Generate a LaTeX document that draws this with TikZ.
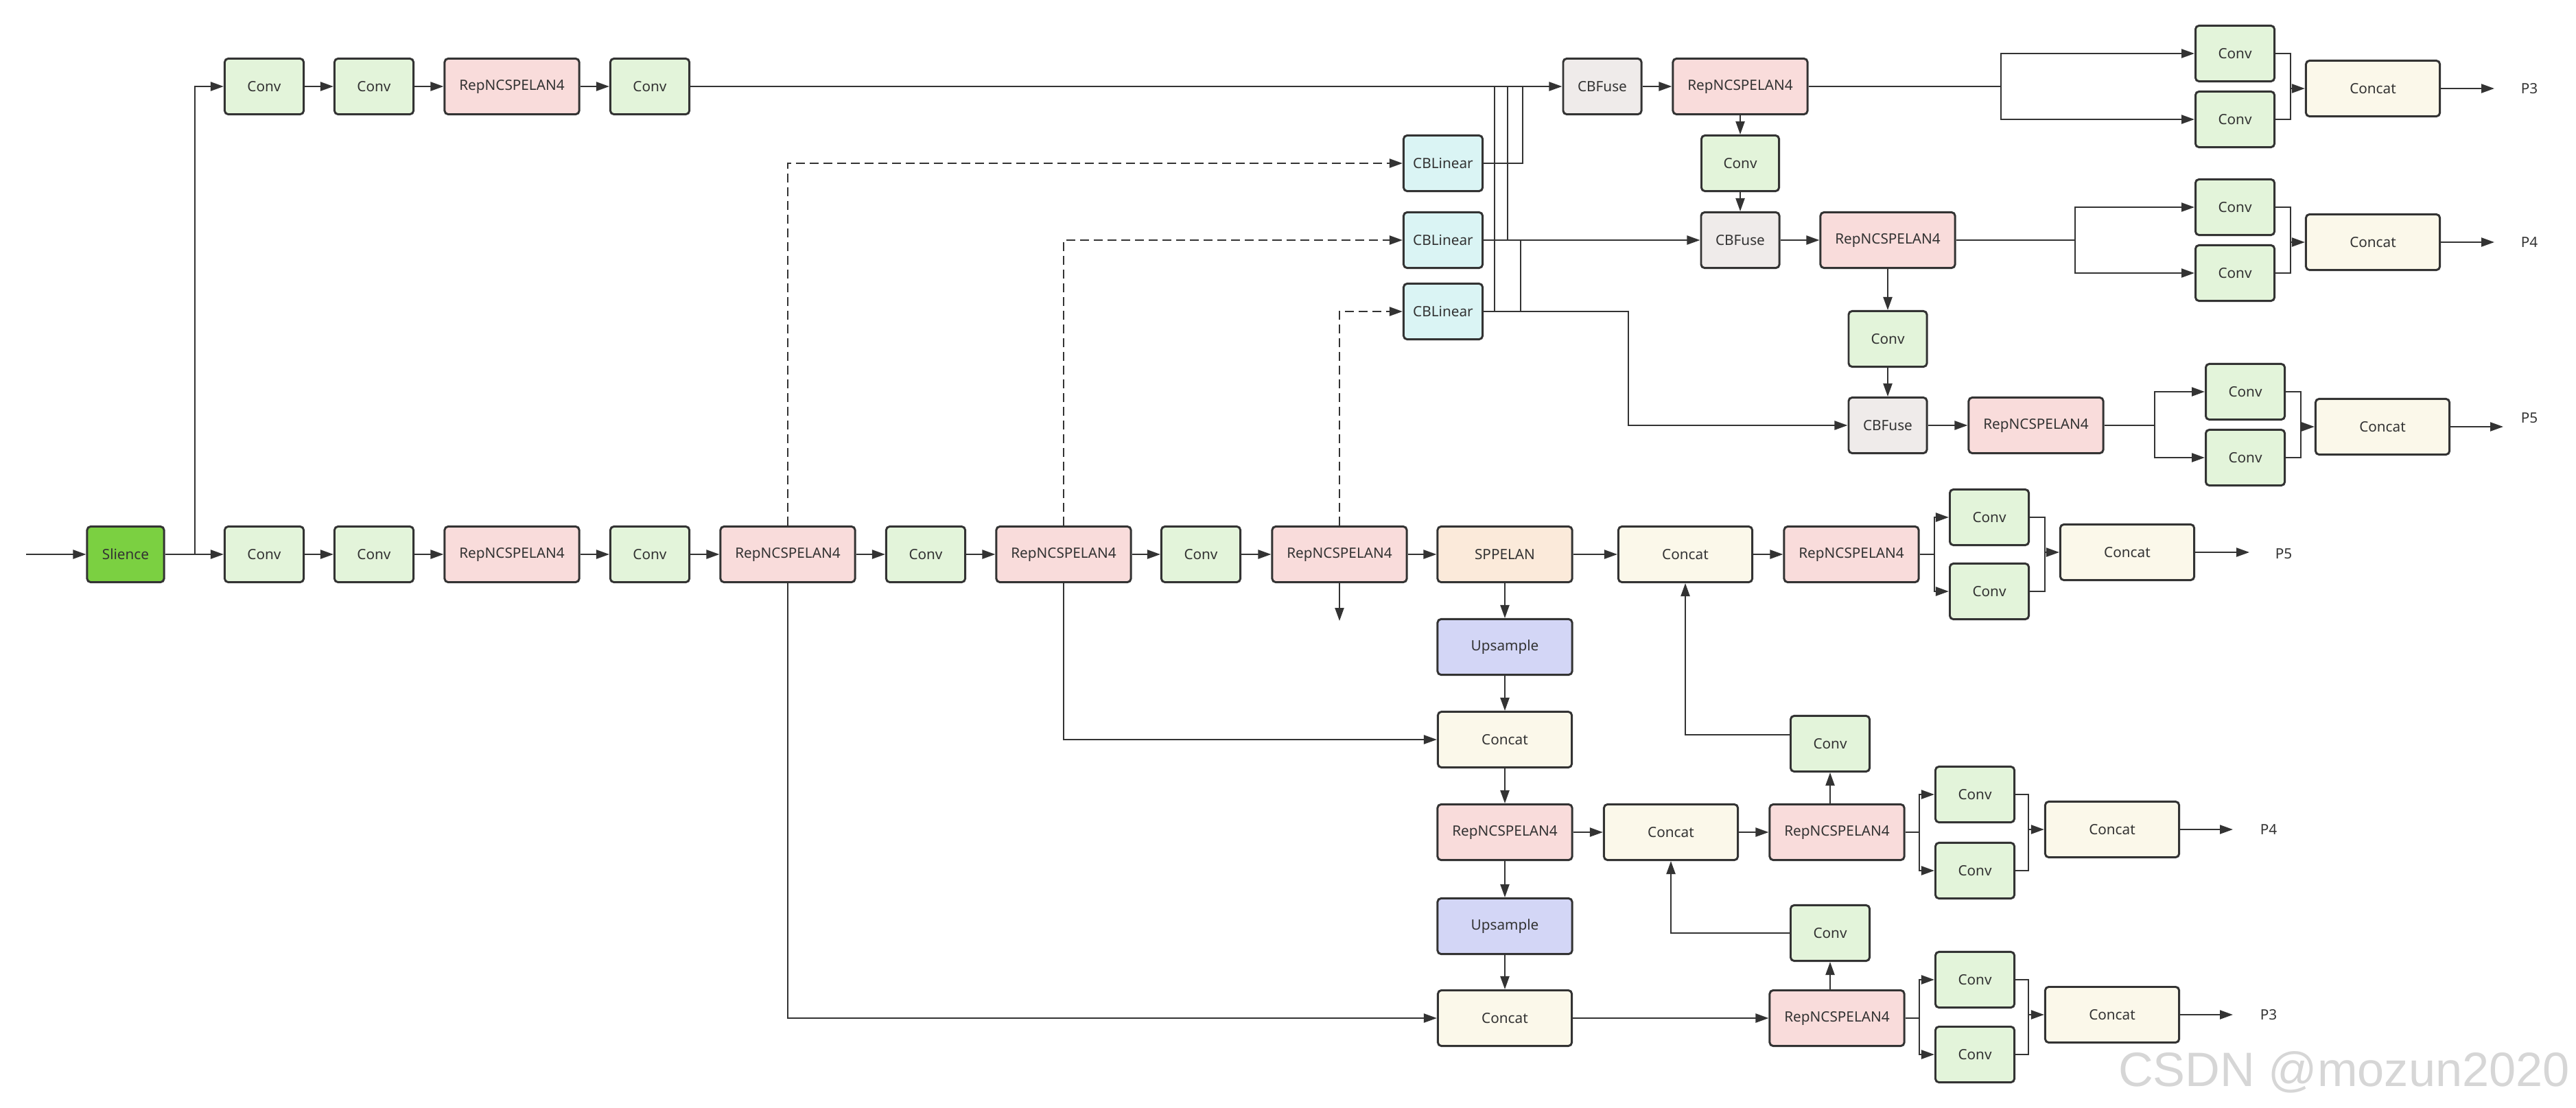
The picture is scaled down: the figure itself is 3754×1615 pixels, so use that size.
\documentclass[tikz,border=0pt]{standalone}
\usepackage{fontspec}
\usetikzlibrary{arrows.meta}
\newfontfamily\lblfont{Noto Sans}
\newfontfamily\wmfont{Liberation Sans}
\definecolor{bd}{HTML}{333333}
\definecolor{tx}{HTML}{333333}
\definecolor{convc}{HTML}{E3F4DA}
\definecolor{repc}{HTML}{F9DCDB}
\definecolor{slc}{HTML}{7BD041}
\definecolor{linc}{HTML}{DAF4F4}
\definecolor{fusec}{HTML}{EFEBEA}
\definecolor{sppc}{HTML}{FBEADA}
\definecolor{upc}{HTML}{D3D6F6}
\definecolor{catc}{HTML}{FBF8EA}
\definecolor{wmc}{HTML}{D6D6D6}
\tikzset{
  box/.style={draw=bd, line width=0.85pt, rounded corners=0.05cm, minimum height=0.81cm,
    inner sep=0pt, text=tx, font=\lblfont\fontsize{5.9}{7}\selectfont},
  convbox/.style={box, fill=convc, minimum width=1.15cm},
  repbox/.style={box, fill=repc, minimum width=1.96cm},
  catbox/.style={box, fill=catc, minimum width=1.95cm},
  slcbox/.style={box, fill=slc, minimum width=1.12cm},
  linbox/.style={box, fill=linc, minimum width=1.15cm},
  fusebox/.style={box, fill=fusec, minimum width=1.14cm},
  sppbox/.style={box, fill=sppc, minimum width=1.96cm},
  upbox/.style={box, fill=upc, minimum width=1.96cm},
  lab/.style={inner sep=0pt, text=tx, font=\lblfont\fontsize{5.9}{7}\selectfont},
  ln/.style={draw=bd, line width=0.65pt},
  arr/.style={ln, -{Triangle[length=0.19cm,width=0.13cm]}},
  darr/.style={arr, dash pattern=on 0.13cm off 0.07cm},
}
\begin{document}
\begin{tikzpicture}[x=0.01cm,y=-0.01cm]
\useasboundingbox (0,0) rectangle (3754,1615);
% ---------------- main row ----------------
\node[slcbox] (sl) at (183,808) {Slience};
\node[convbox] (b1) at (385,808) {Conv};
\node[convbox] (b2) at (545,808) {Conv};
\node[repbox] (b3) at (746,808) {RepNCSPELAN4};
\node[convbox] (b4) at (947,808) {Conv};
\node[repbox] (b5) at (1148,808) {RepNCSPELAN4};
\node[convbox] (b6) at (1349,808) {Conv};
\node[repbox] (b7) at (1550,808) {RepNCSPELAN4};
\node[convbox] (b8) at (1750,808) {Conv};
\node[repbox] (b9) at (1952,808) {RepNCSPELAN4};
\node[sppbox] (spp) at (2193,808) {SPPELAN};
\node[catbox] (n1) at (2456,808) {Concat};
\node[repbox] (n2) at (2698,808) {RepNCSPELAN4};
\node[convbox] (n3) at (2899,754) {Conv};
\node[convbox] (n4) at (2899,862) {Conv};
\node[catbox] (n5) at (3100,805) {Concat};
\node[lab] (p5b) at (3328,807) {P5};
% ---------------- top row ----------------
\node[convbox] (t1) at (385,126) {Conv};
\node[convbox] (t2) at (545,126) {Conv};
\node[repbox] (t3) at (746,126) {RepNCSPELAN4};
\node[convbox] (t4) at (947,126) {Conv};
\node[fusebox] (f1) at (2335,126) {CBFuse};
\node[repbox] (a1) at (2536,126) {RepNCSPELAN4};
\node[convbox, minimum width=1.13cm] (a1c) at (2536,238) {Conv};
\node[fusebox] (f2) at (2536,350) {CBFuse};
\node[repbox] (a2) at (2751,350) {RepNCSPELAN4};
\node[convbox, minimum width=1.14cm] (a2c) at (2751,494) {Conv};
\node[fusebox] (f3) at (2751,620) {CBFuse};
\node[repbox] (a3) at (2967,620) {RepNCSPELAN4};
\node[linbox] (l1) at (2103,238) {CBLinear};
\node[linbox] (l2) at (2103,350) {CBLinear};
\node[linbox] (l3) at (2103,454) {CBLinear};
% heads top
\node[convbox] (h1a) at (3257,78) {Conv};
\node[convbox] (h1b) at (3257,174) {Conv};
\node[catbox] (h1c) at (3458,129) {Concat};
\node[lab] (p3t) at (3686,129) {P3};
\node[convbox] (h2a) at (3257,302) {Conv};
\node[convbox] (h2b) at (3257,398) {Conv};
\node[catbox] (h2c) at (3458,353) {Concat};
\node[lab] (p4t) at (3686,353) {P4};
\node[convbox] (h3a) at (3272,571) {Conv};
\node[convbox] (h3b) at (3272,667) {Conv};
\node[catbox] (h3c) at (3472,622) {Concat};
\node[lab] (p5t) at (3686,609) {P5};
% ---------------- lower part ----------------
\node[upbox] (u1) at (2193,943) {Upsample};
\node[catbox] (m1) at (2193,1078) {Concat};
\node[repbox] (m2) at (2193,1213) {RepNCSPELAN4};
\node[upbox] (u2) at (2193,1350) {Upsample};
\node[catbox] (m3) at (2193,1484) {Concat};
\node[catbox] (m4) at (2435,1213) {Concat};
\node[repbox] (m5) at (2677,1213) {RepNCSPELAN4};
\node[convbox] (m6) at (2667,1084) {Conv};
\node[convbox] (m7) at (2667,1360) {Conv};
\node[repbox] (m8) at (2677,1484) {RepNCSPELAN4};
\node[convbox] (g4a) at (2878,1158) {Conv};
\node[convbox] (g4b) at (2878,1269) {Conv};
\node[catbox] (g4c) at (3078,1209) {Concat};
\node[lab] (p4b) at (3306,1209) {P4};
\node[convbox] (g3a) at (2878,1428) {Conv};
\node[convbox] (g3b) at (2878,1537) {Conv};
\node[catbox] (g3c) at (3078,1479) {Concat};
\node[lab] (p3b) at (3306,1479) {P3};
% watermark
\node[inner sep=0pt, text=wmc, font=\wmfont\fontsize{20}{22}\selectfont] (wm) at (3416,1563) {CSDN @mozun2020};
% ---------------- coordinates ----------------
\coordinate (in) at (38,808);
\coordinate (br0) at (284,808);
\coordinate (b9d) at (1952,905);
\coordinate (brn) at (2819,808);
\coordinate (jn) at (2980,805);
\coordinate (e5b) at (3278,805);
\coordinate (k1) at (2219,126);
\coordinate (k2) at (2197,126);
\coordinate (k3) at (2178,126);
\coordinate (k4) at (2216,350);
\coordinate (k5) at (2373,454);
\coordinate (hb1) at (2916,126);
\coordinate (hj1) at (3338,129);
\coordinate (e3t) at (3635,129);
\coordinate (hb2) at (3024,350);
\coordinate (hj2) at (3338,353);
\coordinate (e4t) at (3635,353);
\coordinate (hb3) at (3140,620);
\coordinate (hj3) at (3353,622);
\coordinate (e5t) at (3648,622);
\coordinate (gb4) at (2797,1213);
\coordinate (gj4) at (2956,1209);
\coordinate (e4b) at (3254,1209);
\coordinate (gb3) at (2797,1484);
\coordinate (gj3) at (2956,1479);
\coordinate (e3b) at (3254,1479);
% ---------------- connectors: main row ----------------
\draw[arr] (in) -- (sl.west);
\draw[arr] (sl.east) -- (b1.west);
\draw[arr] (br0) |- (t1.west);
\draw[arr] (b1.east) -- (b2.west);
\draw[arr] (b2.east) -- (b3.west);
\draw[arr] (b3.east) -- (b4.west);
\draw[arr] (b4.east) -- (b5.west);
\draw[arr] (b5.east) -- (b6.west);
\draw[arr] (b6.east) -- (b7.west);
\draw[arr] (b7.east) -- (b8.west);
\draw[arr] (b8.east) -- (b9.west);
\draw[arr] (b9.east) -- (spp.west);
\draw[arr] (spp.east) -- (n1.west);
\draw[arr] (n1.east) -- (n2.west);
\draw[ln] (n2.east) -- (brn);
\draw[arr] (brn) |- (n3.west);
\draw[arr] (brn) |- (n4.west);
\draw[ln] (n3.east) -| (jn);
\draw[ln] (n4.east) -| (jn);
\draw[arr] (jn) -- (n5.west);
\draw[arr] (n5.east) -- (e5b);
\draw[arr] (b9.south) -- (b9d);
% top row
\draw[arr] (t1.east) -- (t2.west);
\draw[arr] (t2.east) -- (t3.west);
\draw[arr] (t3.east) -- (t4.west);
\draw[arr] (t4.east) -- (f1.west);
% dashed to CBLinear
\draw[darr] (b5.north) |- (l1.west);
\draw[darr] (b7.north) |- (l2.west);
\draw[darr] (b9.north) |- (l3.west);
% CBLinear outputs
\draw[ln] (l1.east) -| (k1);
\draw[ln] (l2.east) -| (k2);
\draw[ln] (l3.east) -| (k3);
\draw[arr] (l2.east) -- (f2.west);
\draw[ln] (l3.east) -| (k4);
\draw[arr] (l3.east) -- (k5) |- (f3.west);
% aux chain
\draw[arr] (f1.east) -- (a1.west);
\draw[arr] (a1.south) -- (a1c.north);
\draw[arr] (a1c.south) -- (f2.north);
\draw[arr] (f2.east) -- (a2.west);
\draw[arr] (a2.south) -- (a2c.north);
\draw[arr] (a2c.south) -- (f3.north);
\draw[arr] (f3.east) -- (a3.west);
% heads top
\draw[ln] (a1.east) -- (hb1);
\draw[arr] (hb1) |- (h1a.west);
\draw[arr] (hb1) |- (h1b.west);
\draw[ln] (h1a.east) -| (hj1);
\draw[ln] (h1b.east) -| (hj1);
\draw[arr] (hj1) -- (h1c.west);
\draw[arr] (h1c.east) -- (e3t);
\draw[ln] (a2.east) -- (hb2);
\draw[arr] (hb2) |- (h2a.west);
\draw[arr] (hb2) |- (h2b.west);
\draw[ln] (h2a.east) -| (hj2);
\draw[ln] (h2b.east) -| (hj2);
\draw[arr] (hj2) -- (h2c.west);
\draw[arr] (h2c.east) -- (e4t);
\draw[ln] (a3.east) -- (hb3);
\draw[arr] (hb3) |- (h3a.west);
\draw[arr] (hb3) |- (h3b.west);
\draw[ln] (h3a.east) -| (hj3);
\draw[ln] (h3b.east) -| (hj3);
\draw[arr] (hj3) -- (h3c.west);
\draw[arr] (h3c.east) -- (e5t);
% lower part
\draw[arr] (spp.south) -- (u1.north);
\draw[arr] (u1.south) -- (m1.north);
\draw[arr] (m1.south) -- (m2.north);
\draw[arr] (m2.south) -- (u2.north);
\draw[arr] (u2.south) -- (m3.north);
\draw[arr] (b7.south) |- (m1.west);
\draw[arr] (b5.south) |- (m3.west);
\draw[arr] (m2.east) -- (m4.west);
\draw[arr] (m4.east) -- (m5.west);
\draw[arr] (m5.north -| m6.south) -- (m6.south);
\draw[arr] ([yshift=0.13cm]m6.west) -| (n1.south);
\draw[arr] (m3.east) -- (m8.west);
\draw[arr] (m8.north -| m7.south) -- (m7.south);
\draw[arr] (m7.west) -| (m4.south);
% mid heads
\draw[ln] (m5.east) -- (gb4);
\draw[arr] (gb4) |- (g4a.west);
\draw[arr] (gb4) |- (g4b.west);
\draw[ln] (g4a.east) -| (gj4);
\draw[ln] (g4b.east) -| (gj4);
\draw[arr] (gj4) -- (g4c.west);
\draw[arr] (g4c.east) -- (e4b);
\draw[ln] (m8.east) -- (gb3);
\draw[arr] (gb3) |- (g3a.west);
\draw[arr] (gb3) |- (g3b.west);
\draw[ln] (g3a.east) -| (gj3);
\draw[ln] (g3b.east) -| (gj3);
\draw[arr] (gj3) -- (g3c.west);
\draw[arr] (g3c.east) -- (e3b);
\end{tikzpicture}
\end{document}
